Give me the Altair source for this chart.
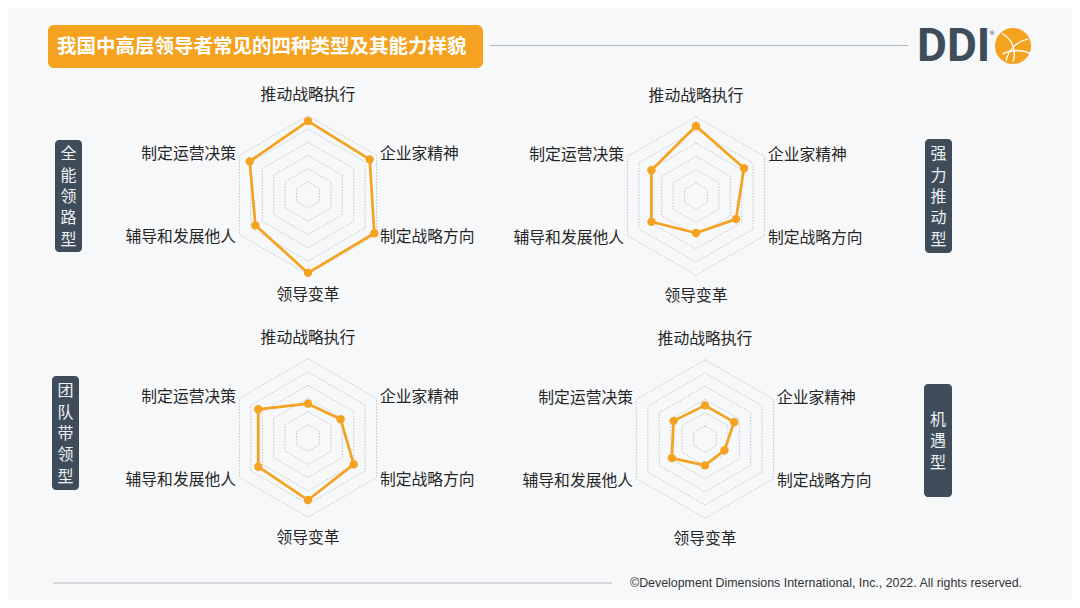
import altair as alt
import pandas as pd

# ---------------- data ----------------
categories = ["推动战略执行", "企业家精神", "制定战略方向", "领导变革", "辅导和发展他人", "制定运营决策"]
types = ["全能领路型", "强力推动型", "团队带领型", "机遇型"]
v_quanneng = [5.6, 5.4, 5.8, 5.9, 4.6, 5.1]
v_qiangli = [5.3, 4.2, 3.5, 2.8, 3.9, 3.9]
v_tuandui = [2.6, 2.85, 4.0, 4.7, 4.35, 4.35]
v_jiyu = [2.55, 2.55, 1.7, 2.0, 2.9, 2.75]
series = [v_quanneng, v_qiangli, v_tuandui, v_jiyu]
levels = [1, 2, 3, 4, 5, 6]
title_text = "我国中高层领导者常见的四种类型及其能力样貌"
footer_text = "©Development Dimensions International, Inc., 2022. All rights reserved."
logo_text = "DDI"

# ---------------- layout (pixel positions on the 1080x608 page) ----------------
centers = {"全能领路型": (308, 195), "强力推动型": (696, 196),
           "团队带领型": (308, 438), "机遇型": (705, 439)}
side_boxes = {"全能领路型": (55, 82, 140, 252), "强力推动型": (925, 952, 139, 253),
              "团队带领型": (52, 79, 376, 490), "机遇型": (924, 952, 384, 497)}
UNIT = 13.2
LINE_H = 21.4
ORANGE = "#F4A21F"
SLATE = "#3F4D5B"
BG = "#F7F8FA"

X = lambda f: alt.X(f, type="quantitative", scale=alt.Scale(domain=[8, 1072], nice=False, zero=False), axis=None)
Y = lambda f: alt.Y(f, type="quantitative", scale=alt.Scale(domain=[600, 8], nice=False, zero=False), axis=None)
X2 = lambda f: alt.X2(f)
Y2 = lambda f: alt.Y2(f)

# series table
rows = []
for t, vals in zip(types, series):
    cx, cy = centers[t]
    for k in range(7):
        i = k % 6
        rows.append(dict(type=t, k=k, axis=categories[i], value=vals[i], ang=i * 60, cx=cx, cy=cy))
df_s = pd.DataFrame(rows)

ring_rows = []
for t in types:
    cx, cy = centers[t]
    for lv in levels:
        for k in range(7):
            ring_rows.append(dict(type=t, level=lv, k=k, ang=(k % 6) * 60, cx=cx, cy=cy))
df_r = pd.DataFrame(ring_rows)

lab_rows = []
for t in types:
    cx, cy = centers[t]
    for i, c in enumerate(categories):
        ang = i * 60
        side = "c" if ang % 180 == 0 else ("l" if ang < 180 else "r")
        lab_rows.append(dict(type=t, axis=c, ang=ang, cx=cx, cy=cy, side=side))
df_l = pd.DataFrame(lab_rows)

calc_xy = dict(
    px=f"datum.cx + datum.value*{UNIT}*sin(datum.ang*PI/180)",
    py=f"datum.cy - datum.value*{UNIT}*cos(datum.ang*PI/180)",
)

rings = alt.Chart(df_r).transform_calculate(value="datum.level").transform_calculate(**calc_xy).mark_line(
    color="#B3B8BD", strokeWidth=0.8, strokeDash=[1.5, 1.5]
).encode(x=X("px"), y=Y("py"), detail=alt.Detail(["type:N", "level:Q"]), order=alt.Order("k:Q"))

lines = alt.Chart(df_s).transform_calculate(**calc_xy).mark_line(
    color=ORANGE, strokeWidth=2.7, strokeJoin="round"
).encode(x=X("px"), y=Y("py"), detail="type:N", order=alt.Order("k:Q"))

pts = alt.Chart(df_s).transform_filter("datum.k < 6").transform_calculate(**calc_xy).mark_point(
    shape="circle", filled=True, opacity=1, size=70, color=ORANGE
).encode(x=X("px"), y=Y("py"))

lab_calc = dict(
    lr="datum.ang % 180 == 0 ? 100 : 83",
)
labels = []
for side, align in [("c", "center"), ("l", "left"), ("r", "right")]:
    labels.append(
        alt.Chart(df_l).transform_filter(f"datum.side == '{side}'").transform_calculate(**lab_calc).transform_calculate(
            px="datum.cx + datum.lr*sin(datum.ang*PI/180)",
            py="datum.cy - datum.lr*cos(datum.ang*PI/180)",
        ).mark_text(align=align, baseline="middle", font="Noto Sans CJK SC", fontSize=15.8, color="#262626").encode(
            x=X("px"), y=Y("py"), text="axis:N"
        )
    )

# side type boxes
box_df = pd.DataFrame([dict(type=t, x0=b[0], x1=b[1], y0=b[2], y1=b[3]) for t, b in side_boxes.items()])
boxes = alt.Chart(box_df).mark_rect(color=SLATE, cornerRadius=4).encode(x=X("x0"), x2=X2("x1"), y=Y("y0"), y2=Y2("y1"))

side_rows = []
for t in types:
    x0, x1, y0, y1 = side_boxes[t]
    n = len(t)
    first = (y0 + y1) / 2 + 1 - (n - 1) / 2 * LINE_H
    side_rows.append(dict(lab="\n".join(list(t)), px=(x0 + x1) / 2, py=first))
chars = alt.Chart(pd.DataFrame(side_rows)).mark_text(
    font="Noto Sans CJK SC", fontSize=16, color="#EEF2F5", baseline="middle", align="center",
    lineBreak="\n", lineHeight=LINE_H
).encode(x=X("px"), y=Y("py"), text="lab:N")

# title
tbox = alt.Chart(pd.DataFrame([dict(x0=48, x1=483, y0=25, y1=68)])).mark_rect(color=ORANGE, cornerRadius=6).encode(
    x=X("x0"), x2=X2("x1"), y=Y("y0"), y2=Y2("y1"))
ttext = alt.Chart(pd.DataFrame([dict(t=title_text, px=57, py=47)])).mark_text(
    font="Noto Sans CJK SC", fontSize=19.5, fontWeight="bold", color="white", align="left", baseline="middle"
).encode(x=X("px"), y=Y("py"), text="t:N")

hlines = alt.Chart(pd.DataFrame([dict(x0=490, x1=908, y0=45.5), dict(x0=53, x1=612, y0=583)])).mark_rule(
    color="#B4B9BE", strokeWidth=1).encode(x=X("x0"), x2=X2("x1"), y=Y("y0"))

logo = alt.Chart(pd.DataFrame([dict(t=logo_text, px=917, py=47)])).mark_text(
    font="Roboto", fontSize=46, fontWeight="bold", color=SLATE, align="left", baseline="middle"
).encode(x=X("px"), y=Y("py"), text="t:N")
reg = alt.Chart(pd.DataFrame([dict(t="®", px=989, py=33)])).mark_text(
    font="DejaVu Sans", fontSize=6, color=SLATE, align="left", baseline="middle"
).encode(x=X("px"), y=Y("py"), text="t:N")
globe = alt.Chart(pd.DataFrame([dict(px=1013, py=46)])).mark_point(
    shape="circle", filled=True, opacity=1, size=1300, color=ORANGE
).encode(x=X("px"), y=Y("py"))
gx, gy = 1013 - 8, 46 - 8
one = pd.DataFrame([{"a": 1}])
globe_arcs = alt.layer(
    alt.Chart(one).mark_arc(radius=28, radius2=26.7, theta=4.9, theta2=6.1, color="white").encode(
        x=alt.value(gx + 20), y=alt.value(gy + 20)),
    alt.Chart(one).mark_arc(radius=24, radius2=22.7, theta=0.5, theta2=1.9, color="white").encode(
        x=alt.value(gx - 22), y=alt.value(gy + 8)),
    alt.Chart(one).mark_arc(radius=36, radius2=34.7, theta=5.85, theta2=6.7, color="white").encode(
        x=alt.value(gx + 4), y=alt.value(gy + 40)),
)

footer = alt.Chart(pd.DataFrame([dict(t=footer_text, px=630, py=583)])).mark_text(
    font="Liberation Sans", fontSize=12.4, color="#333333", align="left", baseline="middle"
).encode(x=X("px"), y=Y("py"), text="t:N")

chart = alt.layer(
    rings, lines, pts, *labels, boxes, chars, hlines, tbox, ttext, logo, reg, globe, globe_arcs, footer
).properties(width=1064, height=592, padding=0, background=BG, autosize=alt.AutoSizeParams(type="none")
).configure_view(stroke=None)

chart.save("out.html", embed_options={"renderer": "svg", "actions": False})
